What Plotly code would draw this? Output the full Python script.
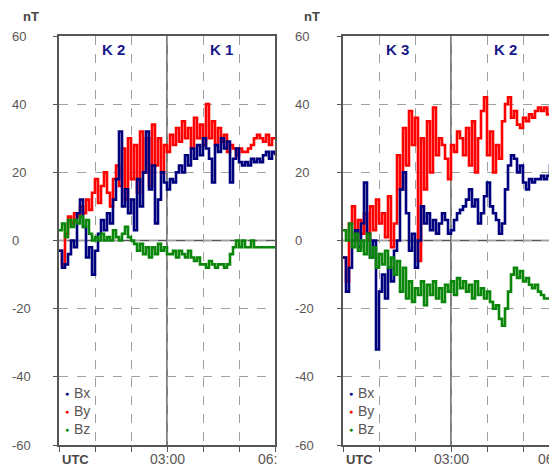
import plotly.graph_objects as go

# ---------------- data (5-minute samples, hours since 00:00 UTC) ----------------
step_min = 5
left_bx = [-3, -8, -7, -4, 0, -2, 8, 12, 4, -5, -2, -10, -3, 2, 6, 3, 8, 5, 12, 18,
           32, 10, 15, 8, 12, 3, 18, 10, 20, 32, 15, 22, 5, 12, 20, 17, 15, 18, 17, 20,
           22, 20, 25, 22, 27, 24, 28, 25, 30, 27, 24, 17, 28, 26, 30, 27, 29, 17, 24, 27,
           23, 22, 23, 22, 24, 23, 24, 23, 25, 26, 24, 26, 25]
left_by = [-3, -7, 2, 7, 5, 8, 7, 10, 8, 12, 9, 14, 18, 11, 16, 20, 14, 10, 18, 22,
           16, 27, 12, 30, 18, 28, 14, 32, 20, 30, 16, 34, 22, 30, 20, 28, 26, 31, 28, 33,
           29, 35, 30, 33, 27, 36, 30, 34, 28, 40, 30, 35, 28, 33, 29, 31, 26, 28, 27, 25,
           27, 26, 26, 27, 28, 30, 31, 30, 29, 31, 28, 30, 30]
left_bz = [3, 5, 1, 6, 4, 6, 5, 7, 4, 6, 2, 0, 1, 0, 2, 0, 1, 0, 3, 1,
           0, 2, 4, 1, 0, -1, -3, -1, -4, -2, -5, -2, -4, -1, -3, -2, -4, -4, -3, -5,
           -3, -4, -5, -3, -5, -6, -5, -7, -7, -8, -6, -7, -8, -7, -7, -8, -7, -4, -2, 0,
           -2, 0, -2, -2, 0, -2, -2, -2, -2, -2, -2, -2, -2]

right_bx = [-5, -15, -8, 0, 3, -2, 5, 17, 2, -5, 0, -32, -15, -10, -17, -8, -12, -3, 0, 15,
            20, 8, -3, 2, -8, 0, 10, 5, 8, 3, 6, 2, 5, 8, 6, 2, 3, 6, 8, 9,
            10, 12, 15, 10, 12, 5, 8, 13, 17, 10, 8, 6, 2, 5, 15, 22, 25, 24, 20, 22,
            17, 15, 18, 17, 18, 18, 19, 18, 19, 22, 20, 17]
right_by = [-5, -12, 5, 10, 0, 6, 2, 8, 0, 10, 3, 12, 5, 8, 1, 13, -2, 5, 25, 15,
            33, 22, 38, 28, 36, -6, 30, 15, 35, 20, 39, 25, 30, 28, 24, 18, 28, 26, 32, 30,
            25, 33, 22, 35, 20, 30, 38, 42, 25, 32, 20, 28, 24, 35, 40, 42, 36, 38, 34, 33,
            36, 35, 37, 36, 38, 39, 38, 39, 37, 39, 40, 38]
right_bz = [3, 0, 5, -2, 2, -3, 0, -4, 2, -5, -2, -8, -4, -7, -3, -8, -5, -10, -6, -15,
            -8, -17, -12, -18, -14, -16, -12, -19, -13, -16, -12, -17, -14, -18, -13, -15, -12, -16, -11, -14,
            -12, -15, -13, -17, -12, -16, -14, -17, -15, -18, -20, -19, -23, -25, -20, -15, -10, -8, -11, -9,
            -12, -11, -13, -14, -13, -15, -16, -17, -17, -17, -18, -17]

k_labels_left = ["K 2", "K 1"]
k_labels_right = ["K 3", "K 2"]
k_positions = [1.5, 4.5]
y_ticks = [60, 40, 20, 0, -20, -40, -60]
series_names = ["Bx", "By", "Bz"]

t_left = [i * step_min / 60 for i in range(len(left_bx))]
t_right = [i * step_min / 60 for i in range(len(right_bx))]

# ---------------- styling ----------------
PAGE_W, PAGE_H = 557, 466
OFF = 8  # default body margin of the html page
W, H = PAGE_W - OFF, PAGE_H - OFF
C_BX, C_BY, C_BZ = "#00007f", "#ff0000", "#0a870a"
AX = "#555555"
GRID = "#a0a0a0"
LAB = "#5a5555"
FONT = "Arial, Liberation Sans, sans-serif"

def px(x):
    return (x - OFF) / W

def py(y):
    return 1 - (y - OFF) / H

ydom = [py(445), py(36)]

fig = go.Figure()

def add_panel(t, bx, by, bz, xa, ya):
    for vals, col, name in [(by, C_BY, "By"), (bx, C_BX, "Bx"), (bz, C_BZ, "Bz")]:
        fig.add_trace(go.Scatter(x=t, y=vals, mode="lines", name=name,
                                 line=dict(color=col, width=2.6, shape="hv"),
                                 xaxis=xa, yaxis=ya, showlegend=False))

add_panel(t_left, left_bx, left_by, left_bz, "x", "y")
add_panel(t_right, right_bx, right_by, right_bz, "x2", "y2")

axis_common = dict(showgrid=True, gridcolor=GRID, griddash="dash", gridwidth=1,
                   showline=True, linecolor=AX, linewidth=1.5,
                   ticks="outside", ticklen=5, tickcolor=AX, tickwidth=1.2,
                   showticklabels=False, zeroline=False)

fig.update_layout(
    width=W, height=H,
    margin=dict(l=0, r=0, t=0, b=0),
    paper_bgcolor="white", plot_bgcolor="white",
    font=dict(family=FONT, size=13, color=LAB),
    showlegend=False,
    xaxis=dict(domain=[px(59), px(275)], range=[0, 6], dtick=1, tick0=0,
               mirror=True, anchor="y", **axis_common),
    yaxis=dict(domain=ydom, range=[-60, 60], dtick=20, tick0=0, mirror=True,
               anchor="x", **{**axis_common, "ticklen": 4}),
    xaxis2=dict(domain=[px(343), 1.0], range=[0, 6 * (PAGE_W - 343) / 216], dtick=1, tick0=0,
                mirror=True, anchor="y2", **axis_common),
    yaxis2=dict(domain=ydom, range=[-60, 60], dtick=20, tick0=0, mirror=False,
                anchor="x2", **{**axis_common, "ticklen": 4}),
)

shapes = []
for xr, yr in [("x", "y"), ("x2", "y2")]:
    shapes.append(dict(type="line", xref=xr, yref=yr + " domain", x0=3, x1=3, y0=0, y1=1,
                       line=dict(color=AX, width=1.5), layer="below"))
    shapes.append(dict(type="line", xref=xr + " domain", yref=yr, x0=0, x1=1, y0=0, y1=0,
                       line=dict(color=AX, width=1.5), layer="below"))
fig.update_layout(shapes=shapes)

ann = []
# y tick labels (left aligned) and nT units
for lab_x, yr, nt_x in [(10, "y", 21), (293, "y2", 302)]:
    for v in y_ticks:
        ann.append(dict(text=str(v), xref="paper", x=px(lab_x), xanchor="left",
                        yref=yr, y=v, yanchor="middle", showarrow=False,
                        font=dict(size=13, color=LAB)))
    ann.append(dict(text="<b>nT</b>", xref="paper", x=px(nt_x), xanchor="left",
                    yref="paper", y=py(17), yanchor="middle", showarrow=False,
                    font=dict(size=13, color="#4a4545")))

# x labels
for x0, xr, x06 in [(59, "x", 256), (343, "x2", 536)]:
    ann.append(dict(text="<b>UTC</b>", xref="paper", x=px(x0 + 1), xanchor="left",
                    yref="paper", y=py(459), yanchor="middle", showarrow=False,
                    font=dict(size=13, color="#4a4545")))
    ann.append(dict(text="03:00", xref=xr, x=3, xanchor="center",
                    yref="paper", y=py(459), yanchor="middle", showarrow=False,
                    font=dict(size=14, color=LAB)))
    ann.append(dict(text="06:", xref="paper", x=px(x06), xanchor="left",
                    yref="paper", y=py(459), yanchor="middle", showarrow=False,
                    font=dict(size=14, color=LAB)))

# K index labels
for labels, xr, yr in [(k_labels_left, "x", "y"), (k_labels_right, "x2", "y2")]:
    for lab, pos in zip(labels, k_positions):
        ann.append(dict(text="<b>" + lab + "</b>", xref=xr, x=pos, xanchor="center",
                        yref=yr, y=56, yanchor="middle", showarrow=False,
                        font=dict(size=15, color="#1a1a8c")))

# legend
for x0 in [59, 343]:
    for k, (name, col) in enumerate(zip(series_names, [C_BX, C_BY, C_BZ])):
        yy = 393 + 18 * k
        ann.append(dict(text="●", xref="paper", x=px(x0 + 8), xanchor="center",
                        yref="paper", y=py(yy), yanchor="middle", showarrow=False,
                        font=dict(size=7, color=col)))
        ann.append(dict(text=name, xref="paper", x=px(x0 + 13), xanchor="left",
                        yref="paper", y=py(yy), yanchor="middle", showarrow=False,
                        font=dict(size=14, color=LAB)))

fig.update_layout(annotations=ann)
fig.write_html("out.html")
